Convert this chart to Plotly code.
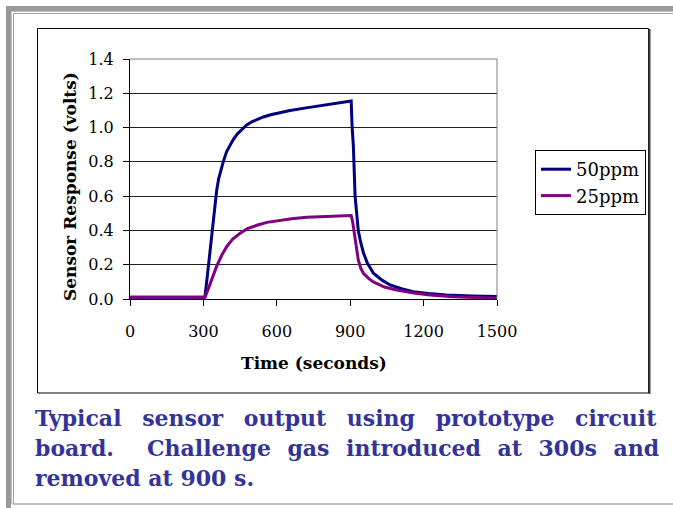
import plotly.graph_objects as go

# Data
t_50 = [0, 100, 200, 300, 306, 315, 325, 335, 345, 354, 362, 372, 381, 395, 410, 422, 440, 460, 477, 500, 525, 545,
        575, 600, 654, 720, 790, 850, 904,
        908, 913, 920, 926, 933, 943, 954, 970, 995, 1030, 1063, 1110, 1158, 1220, 1294, 1400, 1500]
v_50 = [0.01, 0.01, 0.01, 0.01, 0.01, 0.12, 0.25, 0.38, 0.52, 0.63, 0.70, 0.76, 0.80, 0.86, 0.90, 0.93, 0.965, 0.995, 1.015, 1.035, 1.05, 1.062,
        1.075, 1.083, 1.10, 1.115, 1.13, 1.14, 1.155,
        1.00, 0.89, 0.60, 0.50, 0.40, 0.33, 0.27, 0.21, 0.15, 0.11, 0.082, 0.06, 0.043, 0.032, 0.023, 0.017, 0.014]

t_25 = [0, 100, 200, 300, 306, 315, 327, 340, 354, 375, 395, 420, 450, 480, 518, 560, 600, 660, 722, 800, 860, 904,
        910, 920, 933, 943, 954, 975, 995, 1040, 1090, 1160, 1226, 1320, 1420, 1500]
v_25 = [0.01, 0.01, 0.01, 0.01, 0.01, 0.04, 0.09, 0.145, 0.19, 0.255, 0.305, 0.35, 0.383, 0.41, 0.43, 0.447, 0.457, 0.468, 0.477, 0.482, 0.485, 0.487,
        0.45, 0.364, 0.228, 0.18, 0.15, 0.12, 0.10, 0.07, 0.053, 0.035, 0.023, 0.013, 0.007, 0.004]

x_ticks = [0, 300, 600, 900, 1200, 1500]
y_ticks = [0.0, 0.2, 0.4, 0.6, 0.8, 1.0, 1.2, 1.4]
y_tick_labels = ["0.0", "0.2", "0.4", "0.6", "0.8", "1.0", "1.2", "1.4"]

caption_lines = ["Typical sensor output using prototype circuit",
                 "board.  Challenge gas introduced at 300s and",
                 "removed at 900 s."]
caption_word_spacing = [13.0, 8.9, 0]

W, H = 673, 508
L, R, T, B = 130, 497, 59, 299  # plot area pixels


def px(x):
    return (x - L) / (R - L)


def py(y):
    return (B - y) / (B - T)


fig = go.Figure()
fig.add_trace(go.Scatter(x=t_50, y=v_50, mode="lines", name="50ppm",
                         line=dict(color="#000080", width=3)))
fig.add_trace(go.Scatter(x=t_25, y=v_25, mode="lines", name="25ppm",
                         line=dict(color="#800080", width=3)))

serif = "DejaVu Serif"

shapes = []
# outer slide frame
shapes.append(dict(type="rect", xref="paper", yref="paper", x0=px(6), x1=px(11), y0=py(6), y1=py(510),
                   fillcolor="#999999", line=dict(width=0), layer="below"))
shapes.append(dict(type="rect", xref="paper", yref="paper", x0=px(6), x1=px(680), y0=py(6), y1=py(11),
                   fillcolor="#999999", line=dict(width=0), layer="below"))
shapes.append(dict(type="rect", xref="paper", yref="paper", x0=px(11.5), x1=px(680), y0=py(11.5), y1=py(504),
                   fillcolor="rgba(0,0,0,0)", line=dict(color="#c0c0c0", width=1), layer="below"))
shapes.append(dict(type="rect", xref="paper", yref="paper", x0=px(13.5), x1=px(680), y0=py(13.5), y1=py(504),
                   fillcolor="rgba(0,0,0,0)", line=dict(color="#a0a0a0", width=1), layer="below"))
# chart frame
shapes.append(dict(type="rect", xref="paper", yref="paper", x0=px(37.5), x1=px(648.5), y0=py(28.5), y1=py(393),
                   fillcolor="white", line=dict(color="black", width=1), layer="below"))
shapes.append(dict(type="line", xref="paper", yref="paper", x0=px(649.5), x1=px(649.5), y0=py(29), y1=py(394),
                   line=dict(color="#404040", width=2), layer="below"))
# plot area top / right border in gray
shapes.append(dict(type="line", xref="paper", yref="paper", x0=0, x1=1, y0=1, y1=1,
                   line=dict(color="#808080", width=1)))
shapes.append(dict(type="line", xref="paper", yref="paper", x0=1, x1=1, y0=0, y1=1,
                   line=dict(color="#808080", width=1)))

annotations = [
    dict(text="<b>Sensor Response (volts)</b>", xref="paper", yref="paper", x=px(70), y=py(187),
         textangle=-90, showarrow=False, font=dict(family=serif, size=17, color="black"),
         xanchor="center", yanchor="middle"),
    dict(text="<b>Time (seconds)</b>", xref="paper", yref="paper", x=0.5, y=py(363),
         showarrow=False, font=dict(family=serif, size=17, color="black"),
         xanchor="center", yanchor="middle"),
]
for i, line in enumerate(caption_lines):
    txt = "<b>" + line.replace("  ", "&nbsp; ") + "</b>"
    if caption_word_spacing[i]:
        txt = '<span style="word-spacing:%.1fpx">' % caption_word_spacing[i] + txt + "</span>"
    annotations.append(dict(text=txt, xref="paper", yref="paper",
                            x=px(33), y=py(418 + 30 * i), showarrow=False, xanchor="left", yanchor="middle",
                            font=dict(family=serif, size=22, color="#333399")))

fig.update_layout(
    width=W, height=H,
    margin=dict(l=L, r=W - R, t=T, b=H - B),
    paper_bgcolor="white", plot_bgcolor="white",
    showlegend=True,
    legend=dict(x=px(535), y=py(150), xanchor="left", yanchor="top",
                bordercolor="black", borderwidth=1, bgcolor="white",
                font=dict(family=serif, size=18, color="black"), tracegroupgap=0),
    shapes=shapes,
    annotations=annotations,
    xaxis=dict(range=[0, 1500], tickvals=x_ticks, showgrid=False, zeroline=False,
               showline=True, linecolor="black", linewidth=1, ticks="outside", ticklen=6,
               tickcolor="black", tickfont=dict(family=serif, size=16, color="black"),
               ticklabelstandoff=12),
    yaxis=dict(range=[0, 1.4], tickvals=y_ticks, ticktext=y_tick_labels, showgrid=True,
               gridcolor="#222222", gridwidth=1, zeroline=False,
               showline=True, linecolor="black", linewidth=1, ticks="outside", ticklen=6,
               tickcolor="black", tickfont=dict(family=serif, size=16, color="black"),
               ticklabelstandoff=6),
)

fig.write_html("out.html", config={"displayModeBar": False},
               post_script="document.body.style.margin='0';document.body.style.overflow='hidden';")
